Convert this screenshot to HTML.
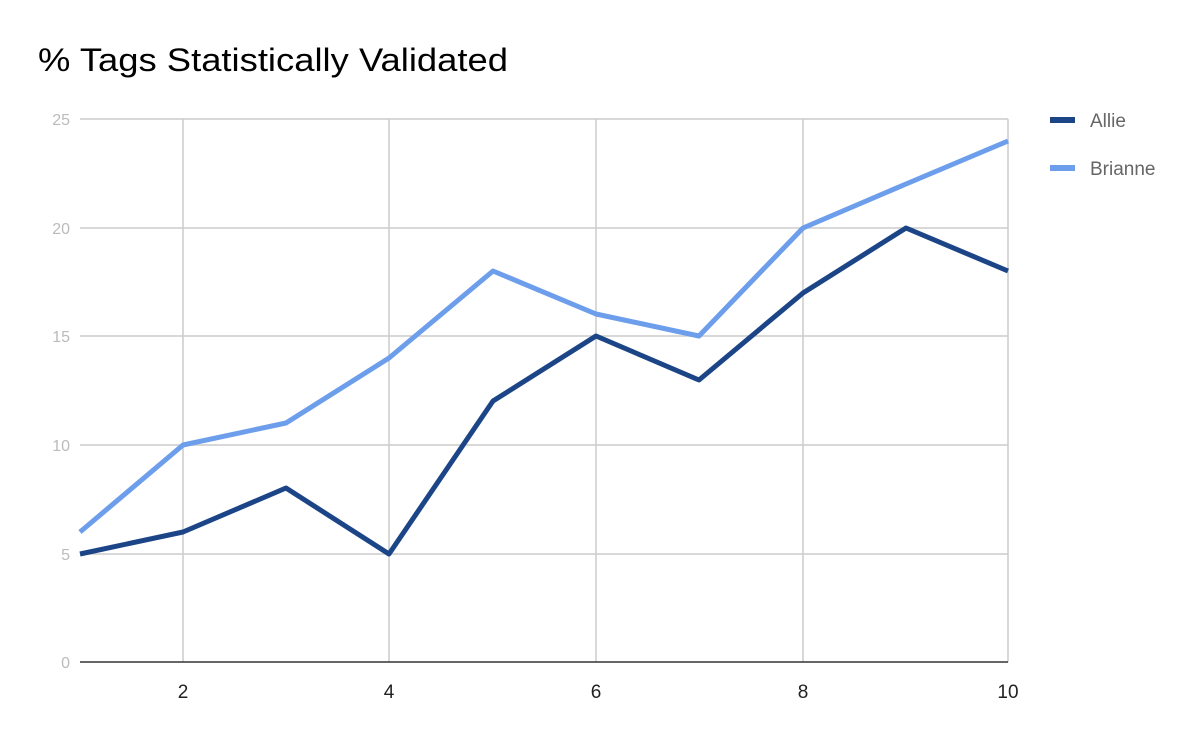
<!DOCTYPE html>
<html><head><meta charset="utf-8"><style>
body{margin:0;background:#fff;}
svg{display:block;font-family:"Liberation Sans",sans-serif;}
</style></head><body>
<svg width="1200" height="742" xmlns="http://www.w3.org/2000/svg">
<rect width="1200" height="742" fill="#fff"/>
<text x="38" y="71" font-size="32" fill="#000" textLength="470" lengthAdjust="spacingAndGlyphs">% Tags Statistically Validated</text>
<g stroke="#ccc" stroke-width="1.5">
<line x1="80" y1="119" x2="1008" y2="119"/>
<line x1="80" y1="228" x2="1008" y2="228"/>
<line x1="80" y1="336" x2="1008" y2="336"/>
<line x1="80" y1="445" x2="1008" y2="445"/>
<line x1="80" y1="554" x2="1008" y2="554"/>
<line x1="183" y1="119" x2="183" y2="662"/>
<line x1="389" y1="119" x2="389" y2="662"/>
<line x1="596" y1="119" x2="596" y2="662"/>
<line x1="803" y1="119" x2="803" y2="662"/>
<line x1="1008" y1="119" x2="1008" y2="662"/>
</g>
<line x1="80" y1="662" x2="1008" y2="662" stroke="#333" stroke-width="1.5"/>
<g font-size="16" fill="#bbb" text-anchor="end">
<text x="70" y="125">25</text><text x="70" y="234">20</text><text x="70" y="342">15</text>
<text x="70" y="451">10</text><text x="70" y="560">5</text><text x="70" y="668">0</text>
</g>
<g font-size="19" fill="#222" text-anchor="middle">
<text x="183" y="698">2</text><text x="389" y="698">4</text><text x="596" y="698">6</text>
<text x="803" y="698">8</text><text x="1008" y="698">10</text>
</g>
<polyline fill="none" stroke="#6d9eeb" stroke-width="5" stroke-linejoin="round"
points="80,532 183,445 286,423 389,358 493,271 596,314 699,336 803,228 906,184 1008,141"/>
<polyline fill="none" stroke="#1c4587" stroke-width="5" stroke-linejoin="round"
points="80,554 183,532 286,488 389,554 493,401 596,336 699,380 803,293 906,228 1008,271"/>
<line x1="1050" y1="120" x2="1075" y2="120" stroke="#1c4587" stroke-width="6"/>
<line x1="1050" y1="168" x2="1075" y2="168" stroke="#6d9eeb" stroke-width="6"/>
<g font-size="19" fill="#666">
<text x="1090" y="127">Allie</text><text x="1090" y="175">Brianne</text>
</g>
</svg>
</body></html>
